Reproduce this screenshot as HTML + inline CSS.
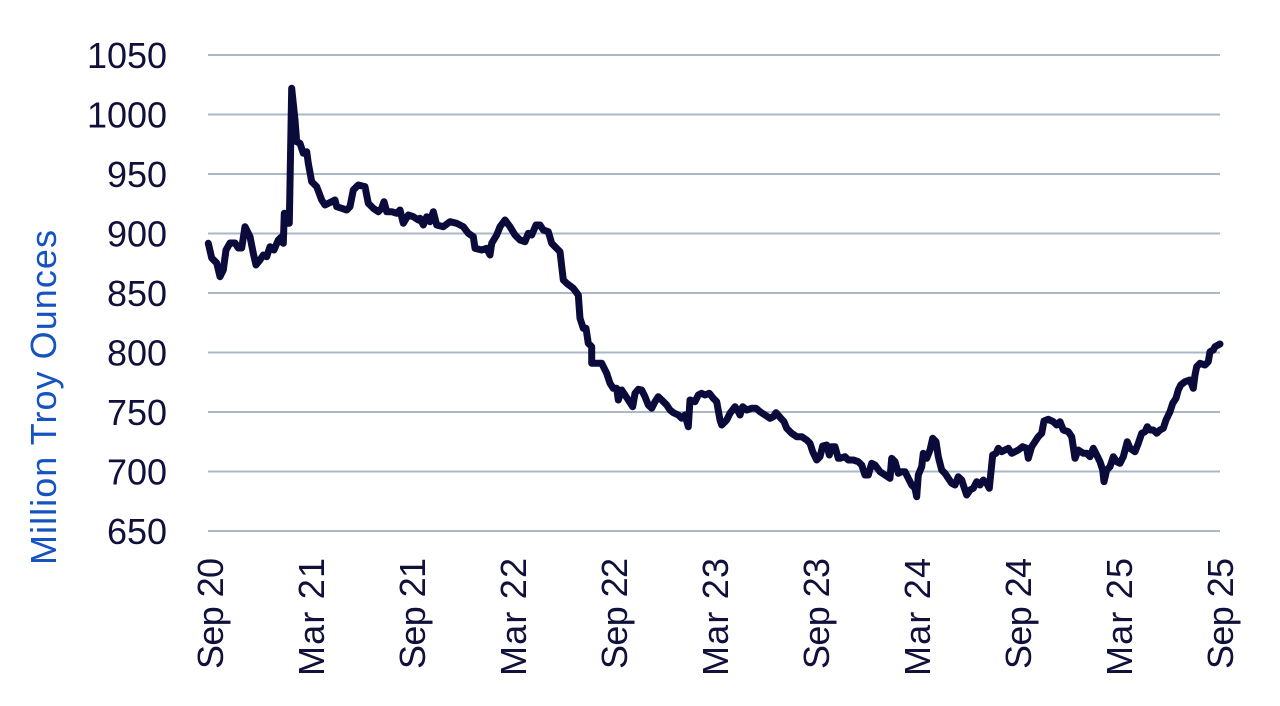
<!DOCTYPE html>
<html>
<head>
<meta charset="utf-8">
<style>
  html, body { margin: 0; padding: 0; background: #ffffff; }
  svg { display: block; }
  .tick { font-family: "Liberation Sans", sans-serif; font-size: 36px; fill: #10103a; }
  .ttl { font-family: "Liberation Sans", sans-serif; font-size: 36px; fill: #1554c0; }
</style>
</head>
<body>
<svg width="1280" height="706" viewBox="0 0 1280 706" xmlns="http://www.w3.org/2000/svg">
  <rect width="1280" height="706" fill="#ffffff"/>
  <g stroke="#a9b7c7" stroke-width="2">
    <line x1="208" y1="55" x2="1220" y2="55"/>
    <line x1="208" y1="114.5" x2="1220" y2="114.5"/>
    <line x1="208" y1="174" x2="1220" y2="174"/>
    <line x1="208" y1="233.5" x2="1220" y2="233.5"/>
    <line x1="208" y1="293" x2="1220" y2="293"/>
    <line x1="208" y1="352.5" x2="1220" y2="352.5"/>
    <line x1="208" y1="412" x2="1220" y2="412"/>
    <line x1="208" y1="471.5" x2="1220" y2="471.5"/>
    <line x1="208" y1="531" x2="1220" y2="531"/>
  </g>
  <g class="tick" text-anchor="end">
    <text x="167" y="68" textLength="80">1050</text>
    <text x="167" y="127.5" textLength="80">1000</text>
    <text x="167" y="187" textLength="60">950</text>
    <text x="167" y="246.5" textLength="60">900</text>
    <text x="167" y="306" textLength="60">850</text>
    <text x="167" y="365.5" textLength="60">800</text>
    <text x="167" y="425" textLength="60">750</text>
    <text x="167" y="484.5" textLength="60">700</text>
    <text x="167" y="544" textLength="60">650</text>
  </g>
  <text class="ttl" transform="translate(56,565) rotate(-90)" x="0" y="0" textLength="335">Million Troy Ounces</text>
  <g class="tick" text-anchor="end">
    <text transform="translate(223,558) rotate(-90)" textLength="111">Sep 20</text>
    <text transform="translate(324,558) rotate(-90)" textLength="118">Mar 21</text>
    <text transform="translate(425,558) rotate(-90)" textLength="111">Sep 21</text>
    <text transform="translate(526,558) rotate(-90)" textLength="118">Mar 22</text>
    <text transform="translate(627,558) rotate(-90)" textLength="111">Sep 22</text>
    <text transform="translate(728,558) rotate(-90)" textLength="118">Mar 23</text>
    <text transform="translate(829,558) rotate(-90)" textLength="111">Sep 23</text>
    <text transform="translate(930,558) rotate(-90)" textLength="118">Mar 24</text>
    <text transform="translate(1031,558) rotate(-90)" textLength="111">Sep 24</text>
    <text transform="translate(1132,558) rotate(-90)" textLength="118">Mar 25</text>
    <text transform="translate(1233,558) rotate(-90)" textLength="111">Sep 25</text>
  </g>
  <polyline fill="none" stroke="#0b0b3b" stroke-width="7" stroke-linejoin="round" stroke-linecap="round" points="
208.3,243.3 211.7,258 216.7,263 220,276.7 223.3,270 226,250 230,243 235,243 238.3,248 241.7,248 245,226.7 250,236.7 253.3,253.3 256,265 260,260 263.3,255 266.7,256.7 270,246.7 274,250 278.3,240 281.7,236.7 283.3,243.3 284.3,213.3 287.3,223.3 289.3,223.3 291.7,88.3 295,120 296.7,141.7 300,143.3 303.3,153.3 306.7,151.7 308.3,163.3 311.7,181.7 316.7,186.7 321.7,200 325,205 331.7,201.7 335,200 336.7,206.7 341.7,208.3 346.7,210 350,206.7 353.3,190 358.3,185 365,186.7 368.3,203.3 373.3,208.3 378.3,211.7 381.7,208.3 384,201.7 386.7,211.7 391.7,211.7 396.7,213.3 400,210 403.3,223.3 408.3,215 413.3,216.7 418.3,220 420,218.3 423.3,225 426.7,216.7 430,221.7 433.3,211.7 436.7,225 443.3,226.7 450,221.7 456.7,223.3 463.3,226.7 468.3,233.3 473.3,236.7 475,248.3 481.7,250 486.7,248.3 490,255 491.7,243.3 496.7,235 500,226.7 505,220 510,226.7 515,235 520,240 525,241.7 528.3,233.3 531.7,235 536,225 540,225 543.3,230 548.3,231.7 551.7,243.3 555,246.7 560,251.7 563.3,280 566.7,283.3 573.3,288.3 578.3,295 580,318.3 583.3,328.3 586,328.3 588.3,343.3 591.7,346.7 591.7,363.3 596.7,363.3 601.7,363.3 606.7,373.3 610,383.3 613.3,388.3 616.7,388.3 618.3,400 621.7,390 625,395 628.3,400 632.7,406.7 635,393.3 638.3,389.3 641.7,390 645,396.7 648.3,405 651.7,408.3 655,401.7 658.3,396.7 661.7,400 666.7,405 670,410 673.3,412.7 678.3,415 681.7,418.3 685,415 688.3,426.7 690,400 695,401.7 698.3,395 701.7,393.3 705,395 709.3,393.3 713.3,398.3 716.7,401.7 720,420 721.7,425 726.7,420 730,413.3 735,406.7 738.3,411.7 740,415 742.7,406.7 746.7,410 751.7,408.3 756,408.3 760,411.7 765,415 770,418.3 773.3,416.7 776,412.7 780,417.3 784,421.7 786.7,428.3 791.7,433.3 796.7,436.7 801.7,436.7 806.7,440 810,443.3 812.7,451.7 816.7,460 820,456.7 822.7,446 826.7,445 829.3,455 831.7,446.7 835,446.7 838.3,458.3 840,458.3 845,456.7 848.3,460 853.3,460 858.3,461.7 861.7,465 865,475 868.3,475 871.7,463.3 875,465 880,471.7 885,475 890,478.3 891.7,458.3 895,461.7 898.3,473.3 901.7,471.7 905,471.7 908.3,478.3 911.7,485 915,488.3 916.7,496.7 918.3,475 921.7,466.7 923.3,453.3 926.7,458.3 930,450 932.7,438.3 936,441.7 938.3,456.7 941.7,470 945,473.3 948.3,478.3 951.7,483.3 955,485 958.3,476.7 961.7,480 963.3,485 966.7,495 970,490 973.3,488.3 976.7,481.7 980,485 983.3,480 986.7,483.3 989.3,488.3 992.7,455 996,453.3 998.3,448.3 1001.7,451.7 1005,450 1008.3,448.3 1011.7,453.3 1015,451.7 1018.3,450 1022.7,446.7 1026.7,448.3 1028.3,458.3 1031.7,446.7 1035,441.7 1038.3,436.7 1041.7,433.3 1044,421 1048.3,419.3 1053.3,421.7 1056.7,425 1060,421.7 1063.3,430 1068.3,431.7 1071.7,436.7 1075,458.3 1078.3,450 1083.3,453.3 1086.7,453.3 1090,456.7 1093.3,448.3 1096.7,455 1100,461.7 1102.7,470 1104,481.7 1106.7,470 1110,466.7 1113.3,456.7 1116.7,461.7 1120,463.3 1123.3,456.7 1127.3,441.7 1130,448.3 1135,451.7 1138.3,443.3 1141.7,433.3 1145,431.7 1147.3,426.7 1150,430 1153.3,430 1156.7,433.3 1160,430 1163.3,428.3 1166,420 1170,411.7 1172.7,403.3 1176,398.3 1178.3,390 1180.7,385 1185,381.7 1190,380 1193.3,388.3 1195,375 1196.7,366.7 1200,363.3 1205,365 1208.3,361.7 1210,351.7 1213.3,350 1215,346.7 1220,344"/>
</svg>
</body>
</html>
